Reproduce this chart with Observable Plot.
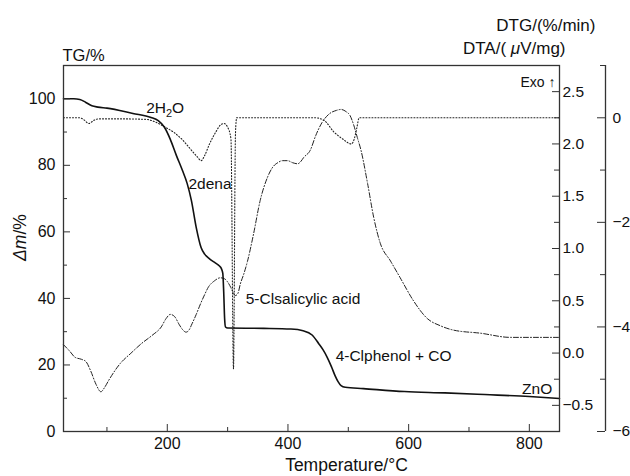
<!DOCTYPE html>
<html><head><meta charset="utf-8">
<script src="https://cdn.jsdelivr.net/npm/d3@7"></script>
<script src="https://cdn.jsdelivr.net/npm/@observablehq/plot@0.6"></script>
<style>
html,body{margin:0;padding:0;background:#fff;}
#chart{width:630px;height:476px;}
</style></head><body><div id="chart"></div>
<script>
// TG curve (% mass)
const tgTemp = [28, 45, 55, 65, 75, 85, 100, 143, 173, 185, 195, 205, 215, 225, 233, 240, 248, 256, 262, 270, 280, 286, 290, 292, 293.5, 295, 296.5, 300, 360, 405, 425, 440, 451, 458, 465, 472, 478, 483, 488, 495, 525, 593, 660, 726, 800, 850];
const tgMass = [100, 100, 99.8, 98.9, 97.9, 97.5, 97.2, 95.6, 94.4, 93.4, 91.5, 87.8, 83, 78.5, 74.5, 69.4, 61.3, 55.3, 53.3, 51.9, 50.6, 49.8, 48.8, 47.5, 42, 34, 31.4, 31.1, 31.0, 30.8, 30.3, 29.0, 26.4, 24.6, 22.3, 19.5, 16.8, 15.0, 13.8, 13.3, 12.9, 12.0, 11.6, 11.1, 10.5, 9.9];
// DTG curve (%/min)
const dtgTemp = [28, 55, 62, 70, 78, 88, 120, 165, 180, 195, 211, 225, 240, 250, 256, 262, 270, 280, 288, 294, 300, 305.5, 309.7, 313, 315, 445, 460, 476, 490, 505, 510, 514, 518, 850];
const dtgRate = [0, 0, -0.04, -0.11, -0.05, -0.02, -0.02, -0.03, -0.08, -0.17, -0.28, -0.42, -0.62, -0.75, -0.82, -0.72, -0.5, -0.28, -0.14, -0.11, -0.18, -0.4, -4.8, -0.3, 0, 0, -0.05, -0.27, -0.4, -0.5, -0.4, -0.2, 0, 0];
// DTA curve (µV/mg)
const dtaTemp = [28, 38, 47, 58, 65, 73, 82, 90, 96, 103, 122, 140, 157, 175, 190, 198, 205, 212, 220, 226, 231, 236, 241, 248, 255, 262, 268, 278, 288, 295, 300, 305, 309, 313, 317, 321, 327, 333, 343, 354, 366, 375, 383, 391, 399, 408, 416, 421, 426, 437, 446, 456, 469, 480, 488, 496, 503, 509, 515, 521, 532, 542, 553, 570, 586, 608, 631, 653, 674, 719, 769, 850];
const dtaSignal = [0.08, 0.02, -0.04, -0.06, -0.08, -0.17, -0.30, -0.37, -0.33, -0.26, -0.10, 0.0, 0.09, 0.17, 0.25, 0.33, 0.37, 0.35, 0.27, 0.22, 0.20, 0.22, 0.28, 0.37, 0.47, 0.56, 0.63, 0.69, 0.72, 0.71, 0.68, 0.63, 0.58, 0.55, 0.57, 0.66, 0.76, 0.88, 1.14, 1.46, 1.68, 1.78, 1.82, 1.84, 1.84, 1.82, 1.81, 1.83, 1.87, 1.94, 2.08, 2.20, 2.29, 2.32, 2.33, 2.31, 2.27, 2.18, 2.06, 1.94, 1.62, 1.30, 1.05, 0.88, 0.72, 0.50, 0.33, 0.26, 0.22, 0.19, 0.15, 0.15];

// ticks
const xTicks = [200, 400, 600, 800];
const xMinorTicks = [100, 300, 500, 700];
const tgTicks = [0, 20, 40, 60, 80, 100];
const tgMinorTicks = [10, 30, 50, 70, 90];
const dtaTicks = [-0.5, 0, 0.5, 1, 1.5, 2, 2.5];
const dtaMinorTicks = [-0.25, 0.25, 0.75, 1.25, 1.75, 2.25];
const dtgTicks = [-6, -4, -2, 0];
const dtgMinorTicks = [-5, -3, -1, 1];

// texts
const xTitle = "Temperature/°C";
const yTitle = "Δm/%";
const tgTitle = "TG/%";
const dtaTitle = "DTA/( μV/mg)";
const dtgTitle = "DTG/(%/min)";
const exoLabel = "Exo ↑";
const stepLabels = ["2H2O", "2dena", "5-Clsalicylic acid", "4-Clphenol + CO", "ZnO"];

const W = 630, H = 476, mL = 63, mR = 71, mT = 65, mB = 45;
const iW = W - mL - mR, iH = H - mT - mB;
const tgDomain = [0, 110], dtaDomain = [-0.75, 2.75], dtgDomain = [-6, 1];
const dta2y = d3.scaleLinear(dtaDomain, tgDomain);
const dtg2y = d3.scaleLinear(dtgDomain, tgDomain);

const tgData = tgTemp.map((t, i) => ({t, v: tgMass[i]}));
const dtgData = dtgTemp.map((t, i) => ({t, v: dtg2y(dtgRate[i])}));
const dtaData = dtaTemp.map((t, i) => ({t, v: dta2y(dtaSignal[i])}));

const ink = "#111", axisInk = "#333";
const fmt1 = d3.format(".1f"), fmt0 = d3.format("d");
const rnd = v => Math.round(v * 100) / 100 + 0;

const chart = Plot.plot({
  width: W, height: H,
  marginLeft: mL, marginRight: mR, marginTop: mT, marginBottom: mB,
  x: {domain: [28, 850]},
  y: {domain: tgDomain},
  style: {fontFamily: "'Liberation Sans', Arial, Helvetica, sans-serif", background: "#fff", color: ink},
  marks: [
    // curves
    Plot.line(dtaData, {x: "t", y: "v", stroke: "#222", strokeWidth: 1, strokeDasharray: "5,2,1,2", curve: "monotone-x"}),
    Plot.line(dtgData, {x: "t", y: "v", stroke: "#222", strokeWidth: 1.1, strokeDasharray: "1,2", curve: "monotone-x"}),
    Plot.line(tgData, {x: "t", y: "v", stroke: ink, strokeWidth: 1.6, curve: "monotone-x"}),
    // frame and outer axis line
    Plot.frame({stroke: axisInk, strokeWidth: 1.3}),
    Plot.ruleX([850], {x: d => d, dx: 46, stroke: axisInk, strokeWidth: 1.3}),
    // ticks (inward)
    Plot.tickY(tgTicks, {y: d => d, insetRight: iW - 7, stroke: axisInk}),
    Plot.tickY(tgMinorTicks, {y: d => d, insetRight: iW - 4, stroke: axisInk}),
    Plot.tickX(xTicks, {x: d => d, insetTop: iH - 7, stroke: axisInk}),
    Plot.tickX(xMinorTicks, {x: d => d, insetTop: iH - 4, stroke: axisInk}),
    Plot.tickY(dtaTicks.map(dta2y), {y: d => d, insetLeft: iW - 7, stroke: axisInk}),
    Plot.tickY(dtaMinorTicks.map(dta2y), {y: d => d, insetLeft: iW - 5, stroke: axisInk}),
    Plot.tickY(dtgTicks.map(dtg2y), {y: d => d, insetLeft: iW - 8, dx: 46, stroke: axisInk}),
    Plot.tickY(dtgMinorTicks.map(dtg2y), {y: d => d, insetLeft: iW - 5, dx: 46, stroke: axisInk}),
    // tick labels
    Plot.axisY(tgTicks, {anchor: "left", tickSize: 0, tickPadding: 8, fontSize: 16, label: null, fill: ink}),
    Plot.axisX(xTicks, {anchor: "bottom", tickSize: 0, tickPadding: 6, fontSize: 16, label: null, fill: ink}),
    Plot.axisY(dtaTicks.map(dta2y), {anchor: "right", tickSize: 0, tickPadding: 3, fontSize: 15.5, label: null, fill: ink,
      tickFormat: d => fmt1(rnd(dta2y.invert(d)))}),
    Plot.axisY(dtgTicks.map(dtg2y), {anchor: "right", tickSize: 0, tickPadding: 0, dx: 53, fontSize: 15.5, label: null, fill: ink,
      tickFormat: d => fmt0(Math.round(dtg2y.invert(d)))}),
    // axis titles
    Plot.text([tgTitle], {text: d => d, frameAnchor: "top-left", dx: -1, dy: -5, textAnchor: "start", lineAnchor: "bottom", fontSize: 16.5, fill: ink}),
    Plot.text([dtaTitle], {text: d => d, frameAnchor: "top-right", dx: 6, dy: -12, textAnchor: "end", lineAnchor: "bottom", fontSize: 17, fill: ink}),
    Plot.text([dtgTitle], {text: d => d, frameAnchor: "top-right", dx: 36, dy: -35, textAnchor: "end", lineAnchor: "bottom", fontSize: 17, fill: ink}),
    Plot.text([xTitle], {text: d => d, frameAnchor: "bottom", dx: 35, dy: 39, textAnchor: "middle", lineAnchor: "bottom", fontSize: 17.5, fill: ink}),
    Plot.text([yTitle], {text: d => d, frameAnchor: "left", dx: -43, dy: -11, rotate: -90, textAnchor: "middle", lineAnchor: "middle", fontSize: 17.5, fill: ink}),
    Plot.text([exoLabel], {text: d => d, frameAnchor: "top-right", dx: -4, dy: 21, textAnchor: "end", lineAnchor: "bottom", fontSize: 14, fill: ink}),
    // step annotations
    Plot.text([stepLabels[0]], {text: d => d, x: 165, y: 95.8, textAnchor: "start", lineAnchor: "bottom", fontSize: 15.5, fill: ink}),
    Plot.text([stepLabels[1]], {text: d => d, x: 235, y: 73, textAnchor: "start", lineAnchor: "bottom", fontSize: 15.5, fill: ink}),
    Plot.text([stepLabels[2]], {text: d => d, x: 330, y: 38.4, textAnchor: "start", lineAnchor: "bottom", fontSize: 15.5, fill: ink}),
    Plot.text([stepLabels[3]], {text: d => d, x: 479, y: 21.3, textAnchor: "start", lineAnchor: "bottom", fontSize: 15.5, fill: ink}),
    Plot.text([stepLabels[4]], {text: d => d, x: 838, y: 11.4, textAnchor: "end", lineAnchor: "bottom", fontSize: 15.5, fill: ink})
  ]
});

function richText(svg, match, parts) {
  svg.querySelectorAll("text").forEach(el => {
    if (el.textContent === match) {
      while (el.firstChild) el.removeChild(el.firstChild);
      parts.forEach(p => {
        const ts = document.createElementNS("http://www.w3.org/2000/svg", "tspan");
        ts.textContent = p.text;
        if (p.italic) ts.setAttribute("font-style", "italic");
        if (p.size) ts.setAttribute("font-size", p.size);
        if (p.dy) ts.setAttribute("dy", p.dy);
        el.appendChild(ts);
      });
    }
  });
}
richText(chart, "2H2O", [{text: "2H"}, {text: "2", size: 11, dy: 4}, {text: "O", dy: -4}]);
richText(chart, yTitle, [{text: "Δm", italic: true}, {text: "/%"}]);
richText(chart, dtaTitle, [{text: "DTA/( "}, {text: "μ", italic: true}, {text: "V/mg)"}]);

document.getElementById("chart").appendChild(chart);
</script>
</body></html>
